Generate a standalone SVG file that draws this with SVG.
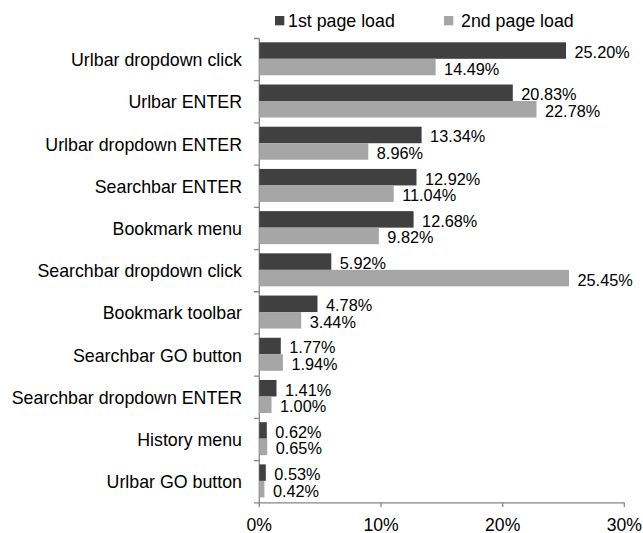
<svg xmlns="http://www.w3.org/2000/svg" width="643" height="533" viewBox="0 0 643 533">
  <style>
    text { font-family: "Liberation Sans", Arial, sans-serif; fill: #000; }
    .cat { font-size: 17.8px; text-anchor: end; }
    .val { font-size: 16.3px; }
    .leg { font-size: 17.8px; }
    .tick-lbl { font-size: 17.6px; text-anchor: middle; }
    .b1 { fill: #404040; }
    .b2 { fill: #a6a6a6; }
    .axis { stroke: #858585; stroke-width: 1.3; fill: none; }
  </style>

  <rect width="643" height="533" fill="#ffffff"/>

  <!-- legend -->
  <g id="legend">
    <rect class="b1" x="275" y="16" width="9.3" height="9.3"/>
    <text class="leg" x="288" y="26.7">1st page load</text>
    <rect class="b2" x="444" y="16" width="9.3" height="9.3"/>
    <text class="leg" x="461" y="26.7">2nd page load</text>
  </g>

  <!-- axes -->
  <g id="axes">
    <path class="axis" d="M259.3 38.5 V502.8 H624.3"/>
    <path class="axis" d="M254 38.5 H259.3 M254 80.71 H259.3 M254 122.92 H259.3 M254 165.13 H259.3 M254 207.34 H259.3 M254 249.55 H259.3 M254 291.76 H259.3 M254 333.97 H259.3 M254 376.18 H259.3 M254 418.39 H259.3 M254 460.6 H259.3 M254 502.81 H259.3"/>
    <path class="axis" d="M259.3 502.8 V507 M381 502.8 V507 M502.7 502.8 V507 M624.3 502.8 V507"/>
    <text class="tick-lbl" x="259.3" y="530.5">0%</text>
    <text class="tick-lbl" x="381" y="530.5">10%</text>
    <text class="tick-lbl" x="502.7" y="530.5">20%</text>
    <text class="tick-lbl" x="624.3" y="530.5">30%</text>
  </g>

  <!-- one group per category: dark bar = 1st load, light bar = 2nd load -->
  <g id="urlbar-dropdown-click" transform="translate(0,38.5)">
    <text class="cat" x="242" y="27.7">Urlbar dropdown click</text>
    <rect class="b1" x="259.3" y="3.8" width="306.7" height="16.5"/>
    <rect class="b2" x="259.3" y="20.3" width="176.3" height="16.5"/>
    <text class="val" x="574.5" y="19.5">25.20%</text>
    <text class="val" x="444.1" y="36">14.49%</text>
  </g>
  <g id="urlbar-enter" transform="translate(0,80.71)">
    <text class="cat" x="242" y="27.7">Urlbar ENTER</text>
    <rect class="b1" x="259.3" y="3.8" width="253.5" height="16.5"/>
    <rect class="b2" x="259.3" y="20.3" width="277.2" height="16.5"/>
    <text class="val" x="521.3" y="19.5">20.83%</text>
    <text class="val" x="545" y="36">22.78%</text>
  </g>
  <g id="urlbar-dropdown-enter" transform="translate(0,122.92)">
    <text class="cat" x="242" y="27.7">Urlbar dropdown ENTER</text>
    <rect class="b1" x="259.3" y="3.8" width="162.3" height="16.5"/>
    <rect class="b2" x="259.3" y="20.3" width="109" height="16.5"/>
    <text class="val" x="430.1" y="19.5">13.34%</text>
    <text class="val" x="376.8" y="36">8.96%</text>
  </g>
  <g id="searchbar-enter" transform="translate(0,165.13)">
    <text class="cat" x="242" y="27.7">Searchbar ENTER</text>
    <rect class="b1" x="259.3" y="3.8" width="157.2" height="16.5"/>
    <rect class="b2" x="259.3" y="20.3" width="134.4" height="16.5"/>
    <text class="val" x="425" y="19.5">12.92%</text>
    <text class="val" x="402.2" y="36">11.04%</text>
  </g>
  <g id="bookmark-menu" transform="translate(0,207.34)">
    <text class="cat" x="242" y="27.7">Bookmark menu</text>
    <rect class="b1" x="259.3" y="3.8" width="154.3" height="16.5"/>
    <rect class="b2" x="259.3" y="20.3" width="119.5" height="16.5"/>
    <text class="val" x="422.1" y="19.5">12.68%</text>
    <text class="val" x="387.3" y="36">9.82%</text>
  </g>
  <g id="searchbar-dropdown-click" transform="translate(0,249.55)">
    <text class="cat" x="242" y="27.7">Searchbar dropdown click</text>
    <rect class="b1" x="259.3" y="3.8" width="72" height="16.5"/>
    <rect class="b2" x="259.3" y="20.3" width="309.7" height="16.5"/>
    <text class="val" x="339.8" y="19.5">5.92%</text>
    <text class="val" x="577.5" y="36">25.45%</text>
  </g>
  <g id="bookmark-toolbar" transform="translate(0,291.76)">
    <text class="cat" x="242" y="27.7">Bookmark toolbar</text>
    <rect class="b1" x="259.3" y="3.8" width="58.2" height="16.5"/>
    <rect class="b2" x="259.3" y="20.3" width="41.9" height="16.5"/>
    <text class="val" x="326" y="19.5">4.78%</text>
    <text class="val" x="309.7" y="36">3.44%</text>
  </g>
  <g id="searchbar-go-button" transform="translate(0,333.97)">
    <text class="cat" x="242" y="27.7">Searchbar GO button</text>
    <rect class="b1" x="259.3" y="3.8" width="21.5" height="16.5"/>
    <rect class="b2" x="259.3" y="20.3" width="23.6" height="16.5"/>
    <text class="val" x="289.3" y="19.5">1.77%</text>
    <text class="val" x="291.4" y="36">1.94%</text>
  </g>
  <g id="searchbar-dropdown-enter" transform="translate(0,376.18)">
    <text class="cat" x="242" y="27.7">Searchbar dropdown ENTER</text>
    <rect class="b1" x="259.3" y="3.8" width="17.2" height="16.5"/>
    <rect class="b2" x="259.3" y="20.3" width="12.2" height="16.5"/>
    <text class="val" x="285" y="19.5">1.41%</text>
    <text class="val" x="280" y="36">1.00%</text>
  </g>
  <g id="history-menu" transform="translate(0,418.39)">
    <text class="cat" x="242" y="27.7">History menu</text>
    <rect class="b1" x="259.3" y="3.8" width="7.5" height="16.5"/>
    <rect class="b2" x="259.3" y="20.3" width="7.9" height="16.5"/>
    <text class="val" x="275.3" y="19.5">0.62%</text>
    <text class="val" x="275.7" y="36">0.65%</text>
  </g>
  <g id="urlbar-go-button" transform="translate(0,460.6)">
    <text class="cat" x="242" y="27.7">Urlbar GO button</text>
    <rect class="b1" x="259.3" y="3.8" width="6.5" height="16.5"/>
    <rect class="b2" x="259.3" y="20.3" width="5.1" height="16.5"/>
    <text class="val" x="274.3" y="19.5">0.53%</text>
    <text class="val" x="272.9" y="36">0.42%</text>
  </g>
</svg>
